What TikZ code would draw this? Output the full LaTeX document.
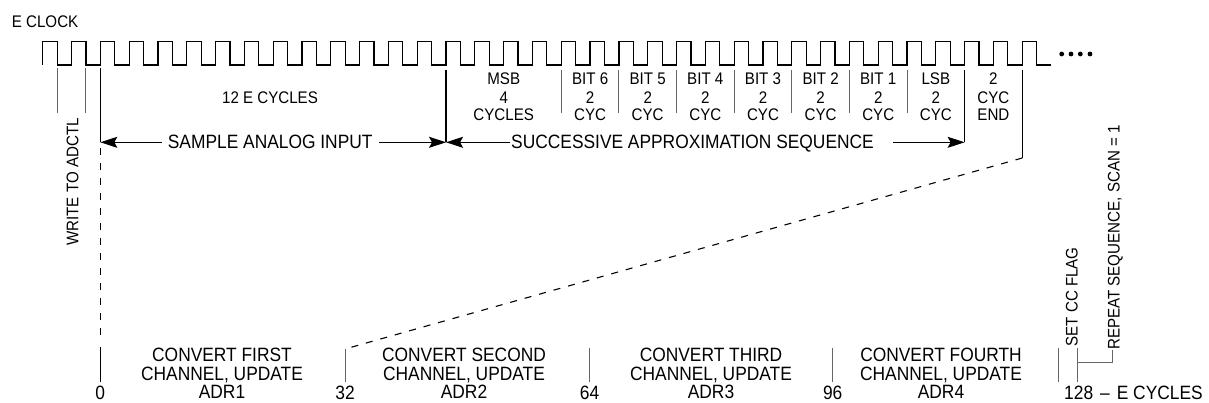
\documentclass[tikz,border=0pt]{standalone}
\usepackage{fontspec}
\setmainfont[FakeStretch=0.9]{Liberation Sans}
\usetikzlibrary{arrows.meta}
\newcommand\fsm{\fontsize{16.8}{18}\selectfont}
\newcommand\flg{\fontsize{19.3}{18.5}\selectfont}
\begin{document}
\begin{tikzpicture}[x=1pt,y=-1pt,
  clk/.style={line width=1.2pt, line join=miter},
  greyln/.style={line width=1pt, black!60},
  solidln/.style={line width=1.1pt},
  dashln/.style={line width=1.1pt, dash pattern=on 7pt off 8pt},
  arr/.style={line width=1.1pt, -{Stealth[length=17pt,width=11pt,inset=3pt]}},
  sm/.style={font=\fsm, inner sep=0pt},
  lg/.style={font=\flg, inner sep=0pt},
]
\useasboundingbox (0,0) rectangle (1209,403);

% ---- clock
\node[sm, anchor=base west] (eclk) at (11.7,28) {E CLOCK};
\draw[clk] (42.7,65) \foreach \k in {0,...,34} { -- ++(0,-23.5) -- ++(14.4,0) -- ++(0,23.5) -- ++(14.41,0) };
\foreach \i/\x in {1/1061.7,2/1071,3/1080.3,4/1090}
  \fill (\x,54) circle (2.4pt) coordinate (dot\i);

% ---- edge markers
\coordinate (f0t) at (57.1,68);  \coordinate (f0b) at (57.1,113);
\coordinate (f1t) at (85.9,68);  \coordinate (f1b) at (85.9,113);
\draw[greyln] (f0t) -- (f0b);
\draw[greyln] (f1t) -- (f1b);

\coordinate (k2t) at (100.32,68);  \coordinate (k2a) at (100.32,142.3);
\coordinate (k14t) at (446.04,70); \coordinate (k14a) at (446.04,142.3);
\coordinate (k32t) at (964.62,70); \coordinate (k32a) at (964.62,142.3);
\coordinate (k34t) at (1022.24,70); \coordinate (k34b) at (1022.24,158);
\draw[solidln] (k2t) -- (k2a);
\draw[solidln] (k14t) -- (k14a);
\draw[solidln] (k32t) -- (k32a);
\draw[solidln] (k34t) -- (k34b);

\foreach \x [count=\n] in {561.28,618.9,676.52,734.14,791.76,849.38,907.0}
  \draw[greyln] (\x,70) coordinate (d\n t) -- (\x,113) coordinate (d\n b);

% ---- top labels
\node[sm, anchor=base] (twelve) at (270,104) {12 E CYCLES};
\foreach \cx/\a/\b/\c [count=\n] in {503.7/MSB/4/CYCLES, 590.1/BIT 6/2/CYC, 647.7/BIT 5/2/CYC,
   705.3/BIT 4/2/CYC, 763/BIT 3/2/CYC, 820.6/BIT 2/2/CYC, 878.2/BIT 1/2/CYC, 935.8/LSB/2/CYC, 993.4/2/CYC/END}
{
  \node[sm, anchor=base] (t\n a) at (\cx,85) {\a};
  \node[sm, anchor=base] (t\n b) at (\cx,103.3) {\b};
  \node[sm, anchor=base] (t\n c) at (\cx,120.7) {\c};
}

% ---- arrows
\node[lg, anchor=base] (sai) at (270.2,149) {SAMPLE ANALOG INPUT};
\node[lg, anchor=base] (sas) at (692.5,149) {SUCCESSIVE APPROXIMATION SEQUENCE};
\coordinate (sa1) at (161.7,142.3); \coordinate (sa2) at (379.3,142.3);
\coordinate (ss1) at (510,142.3);   \coordinate (ss2) at (893.3,142.3);
\draw[arr] (sa1) -- (k2a);
\draw[arr] (sa2) -- (k14a);
\draw[arr] (ss1) -- (k14a);
\draw[arr] (ss2) -- (k32a);

% ---- write to adctl
\node[sm, anchor=base, rotate=90] (wr) at (78.3,182) {WRITE TO ADCTL};
\coordinate (d0a) at (100.32,148); \coordinate (d0b) at (100.32,338);
\draw[dashln] (d0a) -- (d0b);

% ---- bottom ticks
\coordinate (b0t) at (100.32,346.7);  \coordinate (b0b) at (100.32,381.7);
\coordinate (b32t) at (345,349);      \coordinate (b32b) at (345,381.7);
\coordinate (b64t) at (589.5,348);    \coordinate (b64b) at (589.5,381.7);
\coordinate (b96t) at (832.7,348);    \coordinate (b96b) at (832.7,381.7);
\coordinate (c1t) at (1058.5,348);    \coordinate (c1b) at (1058.5,381.7);
\coordinate (c2t) at (1077,348);      \coordinate (c2b) at (1077,381.7);
\draw[solidln] (b0t) -- (b0b);
\draw[greyln] (b32t) -- (b32b);
\draw[greyln] (b64t) -- (b64b);
\draw[greyln] (b96t) -- (b96b);
\draw[greyln] (c1t) -- (c1b);
\draw[greyln] (c2t) -- (c2b);
\draw[dashln] (k34b) -- (b32t);
\coordinate (brk) at (1077,362.5);
\coordinate (brv) at (1112,350);
\draw[greyln] (brk) -| (brv);

% ---- bottom labels
\foreach \cx/\a/\b/\c [count=\n] in {222/CONVERT FIRST/{CHANNEL, UPDATE}/ADR1, 464/CONVERT SECOND/{CHANNEL, UPDATE}/ADR2,
   711/CONVERT THIRD/{CHANNEL, UPDATE}/ADR3, 941/CONVERT FOURTH/{CHANNEL, UPDATE}/ADR4}
{
  \node[lg, anchor=base] (cv\n a) at (\cx,361.5) {\a};
  \node[lg, anchor=base] (cv\n b) at (\cx,380) {\b};
  \node[lg, anchor=base] (cv\n c) at (\cx,398.5) {\c};
}
\node[lg, anchor=base] (n0) at (100.32,399.5) {0};
\node[lg, anchor=base] (n32) at (345,399.5) {32};
\node[lg, anchor=base] (n64) at (589.5,399.5) {64};
\node[lg, anchor=base] (n96) at (832.7,399.5) {96};
\node[lg, anchor=base west] (n128) at (1064,399.5) {128\hspace{7pt}–\hspace{7pt}E CYCLES};

\node[sm, anchor=base west, rotate=90] (setcc) at (1077.5,346.7) {SET CC FLAG};
\node[sm, anchor=base west, rotate=90] (rep) at (1119.5,350) {REPEAT SEQUENCE, SCAN = 1};
\end{tikzpicture}
\end{document}
